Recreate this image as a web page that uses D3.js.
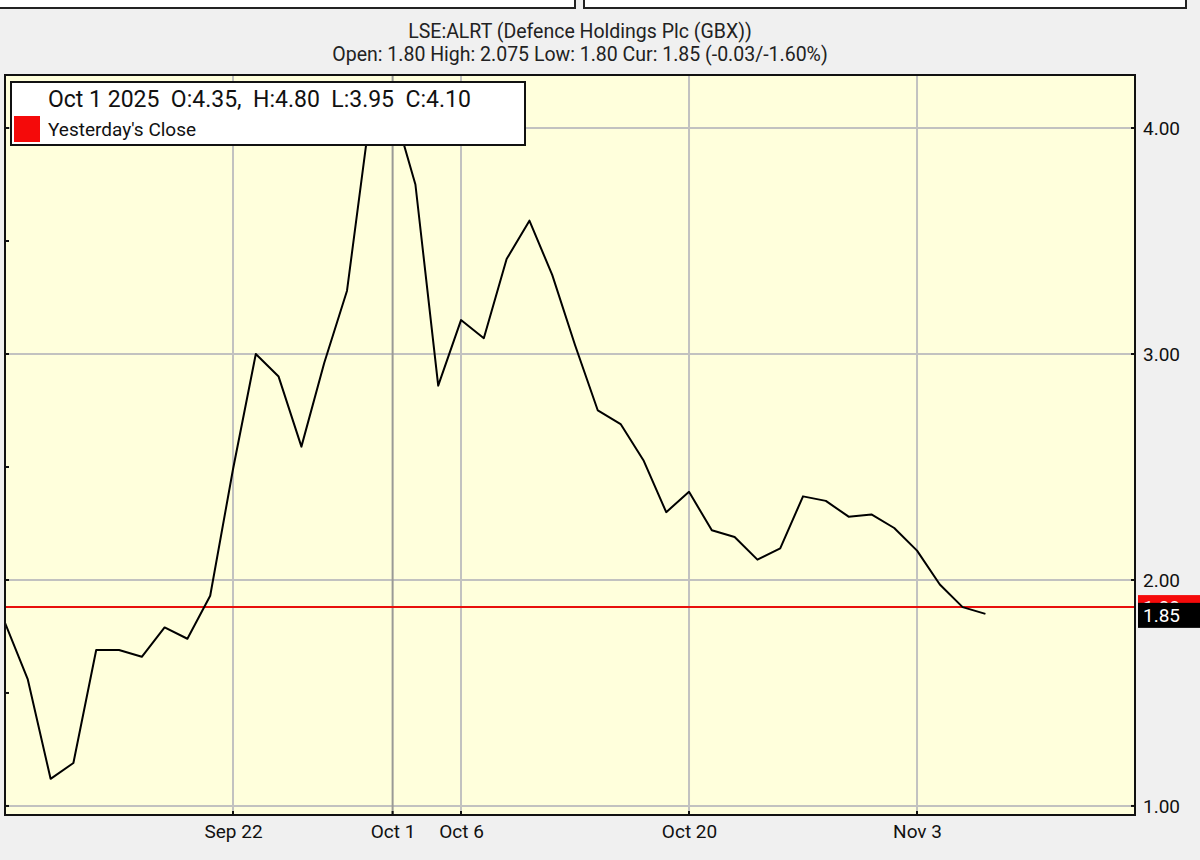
<!DOCTYPE html>
<html>
<head>
<meta charset="utf-8">
<script src="https://cdn.jsdelivr.net/npm/d3@7"></script>
<style>
  html, body { margin: 0; padding: 0; background: #f0f0f0; }
  svg { display: block; font-family: Roboto, "Noto Sans", sans-serif; }
</style>
</head>
<body>
<svg id="chart" width="1200" height="860"></svg>
<script>
// ---- data ----
const dates = ["Sep 8","Sep 9","Sep 10","Sep 11","Sep 12","Sep 15","Sep 16","Sep 17","Sep 18","Sep 19",
  "Sep 22","Sep 23","Sep 24","Sep 25","Sep 26","Sep 29","Sep 30",
  "Oct 1","Oct 2","Oct 3","Oct 6","Oct 7","Oct 8","Oct 9","Oct 10",
  "Oct 13","Oct 14","Oct 15","Oct 16","Oct 17","Oct 20","Oct 21","Oct 22","Oct 23","Oct 24",
  "Oct 27","Oct 28","Oct 29","Oct 30","Oct 31","Nov 3","Nov 4","Nov 5","Nov 6"];
const closes = [1.81,1.56,1.12,1.19,1.69,1.69,1.66,1.79,1.74,1.93,
  2.49,3.00,2.90,2.59,2.96,3.28,4.05,
  4.10,3.75,2.86,3.15,3.07,3.42,3.59,3.35,
  3.04,2.75,2.69,2.53,2.30,2.39,2.22,2.19,2.09,2.14,
  2.37,2.35,2.28,2.29,2.23,2.13,1.98,1.88,1.85];
const xTickLabels = ["Sep 22","Oct 1","Oct 6","Oct 20","Nov 3"];
const yTicks = [1.00, 2.00, 3.00, 4.00];
const yMinorTicks = [1.0, 1.5, 2.0, 2.5, 3.0, 3.5, 4.0];
const yesterdayClose = 1.88;
const currentClose = 1.85;
const titleText = "LSE:ALRT (Defence Holdings Plc (GBX))";
const subtitleText = "Open: 1.80 High: 2.075 Low: 1.80 Cur: 1.85 (-0.03/-1.60%)";
const legendHeader = "Oct 1 2025  O:4.35,  H:4.80  L:3.95  C:4.10";
const legendItem = "Yesterday's Close";

// ---- layout ----
const svg = d3.select("#chart");
const L = 5, R = 1135, T = 75, B = 815;

const x = d3.scaleLinear().domain([0, 49.56]).range([L, R]);
const y = d3.scaleLinear().domain([0.96, 4.2345]).range([B, T]);

// top boxes
svg.append("rect").attr("x", -2).attr("y", -3).attr("width", 577).attr("height", 11)
  .attr("fill", "#fff").attr("stroke", "#222").attr("stroke-width", 2);
svg.append("rect").attr("x", 584).attr("y", -3).attr("width", 602).attr("height", 11)
  .attr("fill", "#fff").attr("stroke", "#222").attr("stroke-width", 2);

// titles
svg.append("text").attr("x", 580).attr("y", 38).attr("text-anchor", "middle")
  .attr("font-size", 19.5).attr("fill", "#222").text(titleText);
svg.append("text").attr("x", 580).attr("y", 61).attr("text-anchor", "middle")
  .attr("font-size", 19.5).attr("fill", "#222").text(subtitleText);

// plot background
svg.append("rect").attr("x", L).attr("y", T).attr("width", R - L).attr("height", B - T)
  .attr("fill", "#ffffdc");

// clip
svg.append("defs").append("clipPath").attr("id", "plotclip")
  .append("rect").attr("x", L).attr("y", T).attr("width", R - L).attr("height", B - T);

// grid
const tickIdx = xTickLabels.map(l => dates.indexOf(l));
const grid = svg.append("g");
grid.selectAll("line.h").data(yTicks).join("line").attr("class", "h")
  .attr("x1", L).attr("x2", R).attr("y1", d => y(d)).attr("y2", d => y(d))
  .attr("stroke", "#c2c2c0").attr("stroke-width", 2);
grid.selectAll("line.v").data(tickIdx).join("line").attr("class", "v")
  .attr("x1", d => x(d)).attr("x2", d => x(d)).attr("y1", T).attr("y2", B)
  .attr("stroke", (d, i) => xTickLabels[i] === "Oct 1" ? "#9a9a96" : "#c2c2c0")
  .attr("stroke-width", 2);

// red yesterday's close line
svg.append("line").attr("x1", L).attr("x2", R)
  .attr("y1", y(yesterdayClose)).attr("y2", y(yesterdayClose))
  .attr("stroke", "#e8100c").attr("stroke-width", 2);

// price line
const line = d3.line().x((d, i) => x(i)).y(d => y(d));
svg.append("path").datum(closes).attr("d", line)
  .attr("clip-path", "url(#plotclip)")
  .attr("fill", "none").attr("stroke", "#000").attr("stroke-width", 2)
  .attr("stroke-linejoin", "round");

// plot border
svg.append("rect").attr("x", L).attr("y", T).attr("width", R - L).attr("height", B - T)
  .attr("fill", "none").attr("stroke", "#111").attr("stroke-width", 2);

// right axis
const yAxis = d3.axisRight(y).tickValues(yTicks).tickFormat(d3.format(".2f"))
  .tickSize(0).tickPadding(8);
const ya = svg.append("g").attr("transform", `translate(${R},0)`).call(yAxis);
ya.select(".domain").remove();
ya.selectAll("text").attr("font-size", 19).attr("fill", "#111")
  .attr("font-family", "Roboto, sans-serif");
// small inner ticks on right
svg.append("g").selectAll("line").data(yTicks).join("line")
  .attr("x1", R - 4).attr("x2", R).attr("y1", d => y(d)).attr("y2", d => y(d))
  .attr("stroke", "#111").attr("stroke-width", 2);
// small inner ticks on left
svg.append("g").selectAll("line").data(yMinorTicks).join("line")
  .attr("x1", L).attr("x2", L + 4).attr("y1", d => y(d)).attr("y2", d => y(d))
  .attr("stroke", "#111").attr("stroke-width", 2);

// bottom axis
const xAxis = d3.axisBottom(x).tickValues(tickIdx)
  .tickFormat((d, i) => xTickLabels[i]).tickSize(0).tickPadding(10);
const xa = svg.append("g").attr("transform", `translate(0,${B})`).call(xAxis);
xa.select(".domain").remove();
xa.selectAll("text").attr("font-size", 19).attr("fill", "#111")
  .attr("font-family", "Roboto, sans-serif");
svg.append("g").selectAll("line").data(tickIdx).join("line")
  .attr("x1", d => x(d)).attr("x2", d => x(d)).attr("y1", B - 4).attr("y2", B)
  .attr("stroke", "#111").attr("stroke-width", 2);

// right-side price labels (yesterday's close label sits mostly behind the current one, as in the reference)
const lblX = R + 3, lblW = 1200 - lblX, lblH = 24;
svg.append("rect").attr("x", lblX).attr("y", y(yesterdayClose) - lblH / 2)
  .attr("width", lblW).attr("height", lblH).attr("fill", "#f50a0a");
svg.append("text").attr("x", R + 8).attr("y", y(yesterdayClose)).attr("dy", "0.35em")
  .attr("font-size", 19).attr("fill", "#fff").text(d3.format(".2f")(yesterdayClose));
svg.append("rect").attr("x", lblX).attr("y", y(currentClose) - lblH / 2 + 1)
  .attr("width", lblW).attr("height", lblH + 1).attr("fill", "#000");
svg.append("text").attr("x", R + 8).attr("y", y(currentClose) + 1).attr("dy", "0.35em")
  .attr("font-size", 19).attr("fill", "#fff").text(d3.format(".2f")(currentClose));

// legend box
const lg = svg.append("g");
lg.append("rect").attr("x", 11).attr("y", 82).attr("width", 514).attr("height", 63)
  .attr("fill", "#fff").attr("stroke", "#111").attr("stroke-width", 2);
lg.append("text").attr("x", 48).attr("y", 107).attr("font-size", 23).attr("fill", "#111")
  .style("white-space", "pre").text(legendHeader);
lg.append("rect").attr("x", 14).attr("y", 116).attr("width", 26).attr("height", 26)
  .attr("fill", "#f50a0a");
lg.append("text").attr("x", 48).attr("y", 136).attr("font-size", 19).attr("fill", "#111")
  .text(legendItem);
</script>
</body>
</html>
